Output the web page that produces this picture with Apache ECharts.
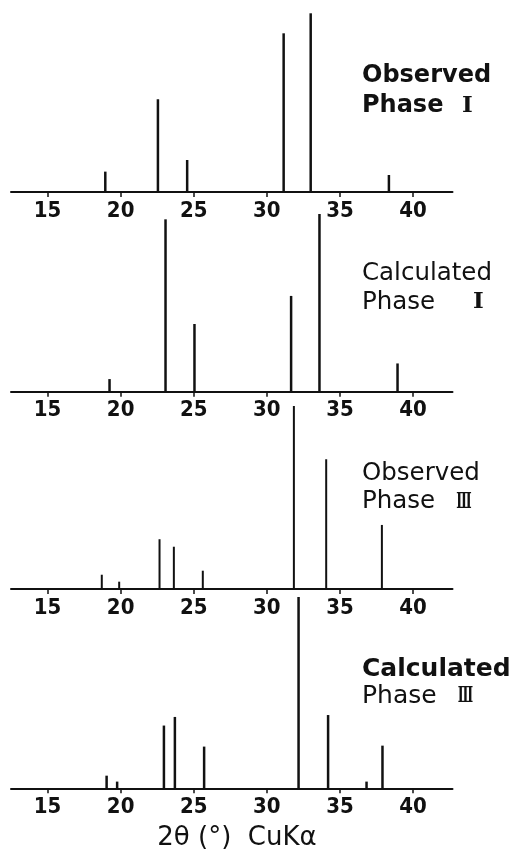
<!DOCTYPE html>
<html><head><meta charset="utf-8">
<script src="https://cdn.jsdelivr.net/npm/echarts@6/dist/echarts.min.js"></script>
<style>html,body{margin:0;padding:0;background:#fff}#c{width:518px;height:852px}</style>
</head><body><div id="c"></div>
<script>
// x-axis tick labels (2θ, degrees)
const tickValues = [15, 20, 25, 30, 35, 40];
// Panel 1: Observed Phase I
const obs1Pos = [18.95, 22.55, 24.55, 31.15, 33.0, 38.35];
const obs1Int = [11.4, 51.9, 17.9, 88.8, 100, 9.5];
// Panel 2: Calculated Phase I
const calc1Pos = [19.24, 23.07, 25.05, 31.66, 33.6, 38.94];
const calc1Int = [7.1, 97, 38.1, 53.9, 100, 15.9];
// Panel 3: Observed Phase III
const obs3Pos = [18.71, 19.9, 22.66, 23.64, 25.62, 31.85, 34.06, 37.87];
const obs3Int = [7.8, 4.0, 27.2, 23.1, 10.0, 100, 70.9, 35.0];
// Panel 4: Calculated Phase III
const calc3Pos = [19.04, 19.76, 22.96, 23.71, 25.71, 32.17, 34.19, 36.82, 37.91];
const calc3Int = [6.6, 3.5, 32.8, 37.3, 21.8, 100, 38.3, 3.5, 22.3];

const panelTitles = [
  ['Observed', 'Phase', 'Ⅰ'],
  ['Calculated', 'Phase', 'Ⅰ'],
  ['Observed', 'Phase', 'Ⅲ'],
  ['Calculated', 'Phase', 'Ⅲ']
];
const axisTitle = '2θ (°)  CuKα';

const panels = [[obs1Pos, obs1Int], [calc1Pos, calc1Int], [obs3Pos, obs3Int], [calc3Pos, calc3Int]];
const gridLayout = [
  {top: 13.3, height: 178.7},
  {top: 214, height: 177.7},
  {top: 406, height: 183},
  {top: 597, height: 191.3}
];
const titleY = [[76, 106], [274, 302.5], [474, 501.7], [669, 696]];
const numeralX = [467.5, 478.5, 464, 465.5];
const numeralScale = [1, 1, 0.55, 0.55];
const titleWeight = ['bold', 'normal', 'normal', 'bold'];
const subWeight = ['bold', 'normal', 'normal', 'normal'];
const titleSize = [24, 24.5, 24.5, 25];

const ink = '#111';
const chart = echarts.init(document.getElementById('c'), null, {renderer: 'canvas'});

const grid = [], xAxis = [], yAxis = [], series = [], graphic = [];
panels.forEach((p, i) => {
  grid.push({left: 11, width: 441.5, top: gridLayout[i].top, height: gridLayout[i].height});
  xAxis.push({
    type: 'value', gridIndex: i, min: 12.5, max: 42.7,
    splitLine: {show: false},
    axisLine: {show: true, onZero: false, lineStyle: {color: ink, width: 2}},
    axisTick: {show: true, length: 5, customValues: tickValues, lineStyle: {color: ink, width: 1.5}},
    axisLabel: {show: true, customValues: tickValues, margin: 8, color: ink,
      fontSize: 22, fontWeight: 'bold', fontFamily: '"Liberation Sans Narrow", "DejaVu Sans Condensed", "Liberation Sans", sans-serif'}
  });
  yAxis.push({type: 'value', gridIndex: i, min: 0, max: 100, show: false});
  series.push({
    type: 'bar', xAxisIndex: i, yAxisIndex: i, barWidth: i === 2 ? 2 : 2.5,
    itemStyle: {color: ink},
    data: p[0].map((x, k) => [x, p[1][k]]),
    silent: true
  });
  const t = panelTitles[i];
  graphic.push({
    type: 'text', x: 362, y: titleY[i][0],
    style: {text: t[0], fill: ink, fontSize: titleSize[i], fontWeight: titleWeight[i],
      fontFamily: '"DejaVu Sans", sans-serif', textVerticalAlign: 'middle', verticalAlign: 'middle'}
  });
  graphic.push({
    type: 'text', x: 362, y: titleY[i][1],
    style: {text: t[1], fill: ink, fontSize: titleSize[i], fontWeight: subWeight[i],
      fontFamily: '"DejaVu Sans", sans-serif', textVerticalAlign: 'middle', verticalAlign: 'middle'}
  });
  graphic.push({
    type: 'text', x: numeralX[i], y: titleY[i][1], scaleX: numeralScale[i],
    style: {text: t[2], fill: ink, fontSize: 23, fontWeight: 'bold',
      fontFamily: '"DejaVu Serif", "Liberation Serif", serif',
      textAlign: 'center', align: 'center', textVerticalAlign: 'middle', verticalAlign: 'middle'}
  });
});
graphic.push({
  type: 'text', x: 237, y: 838,
  style: {text: axisTitle, fill: ink, fontSize: 26, fontFamily: '"DejaVu Sans", sans-serif',
    textAlign: 'center', align: 'center', textVerticalAlign: 'middle', verticalAlign: 'middle'}
});

chart.setOption({
  animation: false,
  backgroundColor: '#fff',
  grid, xAxis, yAxis, series, graphic
});
</script></body></html>
